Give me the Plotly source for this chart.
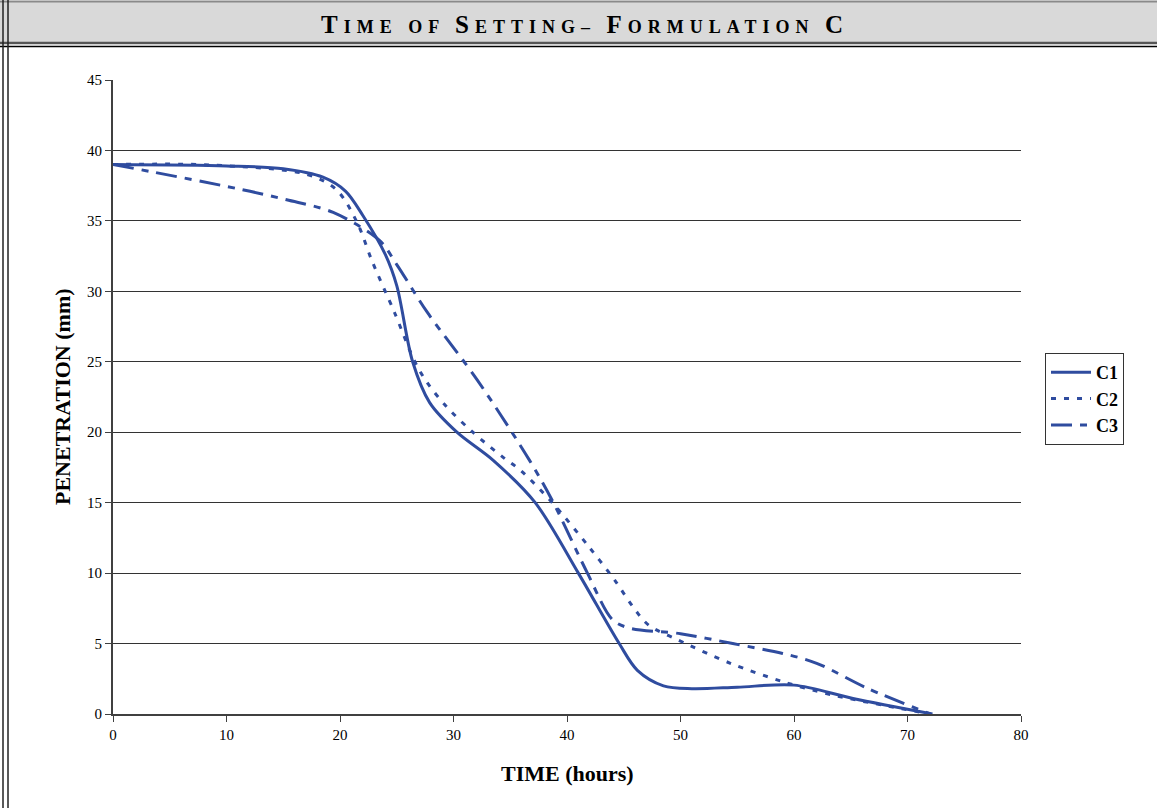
import plotly.graph_objects as go

# ---- data ----
c1_x = [0, 10, 15, 18.5, 20.5, 22, 24, 25, 26.4, 27.9, 30.3, 33.5, 37.2, 41, 44.6, 46.2, 48.5, 51, 55, 60, 65.2, 72.2]
c1_y = [39, 38.9, 38.7, 38.1, 37.1, 35.4, 32.6, 30.4, 25, 22.1, 20, 18, 15, 10, 5, 3.1, 2.0, 1.8, 1.9, 2.05, 1.1, 0]

c2_x = [0, 8.5, 17.1, 19.7, 21.5, 22.8, 24.8, 26.6, 27.7, 29.4, 31.7, 34.4, 35.9, 38.7, 41.9, 44.2, 46, 47.2, 49.8, 54.4, 59, 63.4, 72]
c2_y = [39, 38.97, 38.3, 37.2, 34.9, 32.2, 28.5, 25, 23.5, 21.8, 20, 18.2, 17.3, 15, 11.9, 9.5, 7.4, 6.3, 5.25, 3.6, 2.3, 1.35, 0]

c3_x = [0, 3.3, 10.9, 15.3, 19.4, 23.5, 25, 27.7, 32.1, 36.7, 38.8, 41.8, 44, 45.5, 50, 54.6, 59, 62, 66.4, 72]
c3_y = [39, 38.5, 37.3, 36.5, 35.6, 33.6, 31.9, 28.5, 23.7, 18, 15, 10, 6.7, 6.1, 5.7, 5, 4.3, 3.6, 1.85, 0]

series_names = ["C1", "C2", "C3"]
x_ticks = [0, 10, 20, 30, 40, 50, 60, 70, 80]
y_ticks = [0, 5, 10, 15, 20, 25, 30, 35, 40, 45]

BLUE = "#2f4c9f"
FONT = "Liberation Serif"
W, H = 1157, 808
PL, PR, PT, PB = 113, 1021, 80, 714  # plot area in pixels


def px(xp):
    return (xp - PL) / (PR - PL)


def py(yp):
    return (PB - yp) / (PB - PT)


fig = go.Figure()
dashes = ["solid", "5px,8px", "21px,8px,7px,8px"]
for name, xs, ys, d in zip(series_names, [c1_x, c2_x, c3_x], [c1_y, c2_y, c3_y], dashes):
    fig.add_trace(go.Scatter(
        x=xs, y=ys, name="<b>" + name + "</b>", mode="lines",
        line=dict(color=BLUE, width=3, dash=d, shape="spline", smoothing=0.9),
    ))

shapes = []
# title bar
shapes.append(dict(type="rect", xref="paper", yref="paper",
                   x0=px(0), x1=px(W), y0=py(2), y1=py(42),
                   fillcolor="#d9d9d9", line=dict(width=0), layer="below"))
shapes.append(dict(type="line", xref="paper", yref="paper",
                   x0=px(0), x1=px(W), y0=py(1.5), y1=py(1.5),
                   line=dict(color="#8a8a8a", width=2)))
shapes.append(dict(type="line", xref="paper", yref="paper",
                   x0=px(0), x1=px(W), y0=py(43), y1=py(43),
                   line=dict(color="#555555", width=2.5)))
shapes.append(dict(type="line", xref="paper", yref="paper",
                   x0=px(0), x1=px(W), y0=py(46.5), y1=py(46.5),
                   line=dict(color="#000000", width=1.5)))
# left double border
for xv in (3, 8):
    shapes.append(dict(type="line", xref="paper", yref="paper",
                       x0=px(xv), x1=px(xv), y0=py(0), y1=py(H),
                       line=dict(color="#222222", width=1.5)))

BIG = "font-size:25px"
title_html = ("<b><span style='letter-spacing:6px'>"
              "<span style='" + BIG + "'>T</span>IME OF "
              "<span style='" + BIG + "'>S</span>ETTING– "
              "<span style='" + BIG + "'>F</span>ORMULATION "
              "<span style='" + BIG + "'>C</span></span></b>")

annotations = [
    dict(text=title_html, xref="paper", yref="paper", x=px(585), y=py(24),
         xanchor="center", yanchor="middle", showarrow=False,
         font=dict(family=FONT, size=18, color="#000000")),
    dict(text="<b>PENETRATION (mm)</b>", xref="paper", yref="paper",
         x=px(62), y=py(397), xanchor="center", yanchor="middle",
         textangle=-90, showarrow=False,
         font=dict(family=FONT, size=22, color="#000000")),
    dict(text="<b>TIME (hours)</b>", xref="paper", yref="paper",
         x=px(567), y=py(773), xanchor="center", yanchor="middle",
         showarrow=False, font=dict(family=FONT, size=22, color="#000000")),
]

fig.update_layout(
    width=W, height=H,
    margin=dict(l=PL, r=W - PR, t=PT, b=H - PB, pad=0),
    paper_bgcolor="white", plot_bgcolor="white",
    shapes=shapes, annotations=annotations,
    showlegend=True,
    legend=dict(x=px(1045), y=py(353), xanchor="left", yanchor="top",
                bgcolor="white", bordercolor="#333333", borderwidth=1,
                font=dict(family=FONT, size=18, color="#000000"),
                itemwidth=40, tracegroupgap=0),
    font=dict(family=FONT, color="#000000"),
)
fig.update_xaxes(range=[0, 80], tickvals=x_ticks, ticktext=[str(v) for v in x_ticks],
                 showgrid=False, showline=True, linecolor="#404040", linewidth=2,
                 ticks="outside", ticklen=6, tickcolor="#404040", tickwidth=1,
                 tickfont=dict(family=FONT, size=15, color="#000000"),
                 zeroline=False, fixedrange=True)
fig.update_yaxes(range=[0, 45], tickvals=y_ticks, ticktext=[str(v) for v in y_ticks],
                 showgrid=True, gridcolor="#333333", gridwidth=1,
                 showline=True, linecolor="#404040", linewidth=2,
                 ticks="outside", ticklen=6, tickcolor="#404040", tickwidth=1,
                 tickfont=dict(family=FONT, size=15, color="#000000"),
                 zeroline=False, fixedrange=True)

fig.write_html("out.html")
